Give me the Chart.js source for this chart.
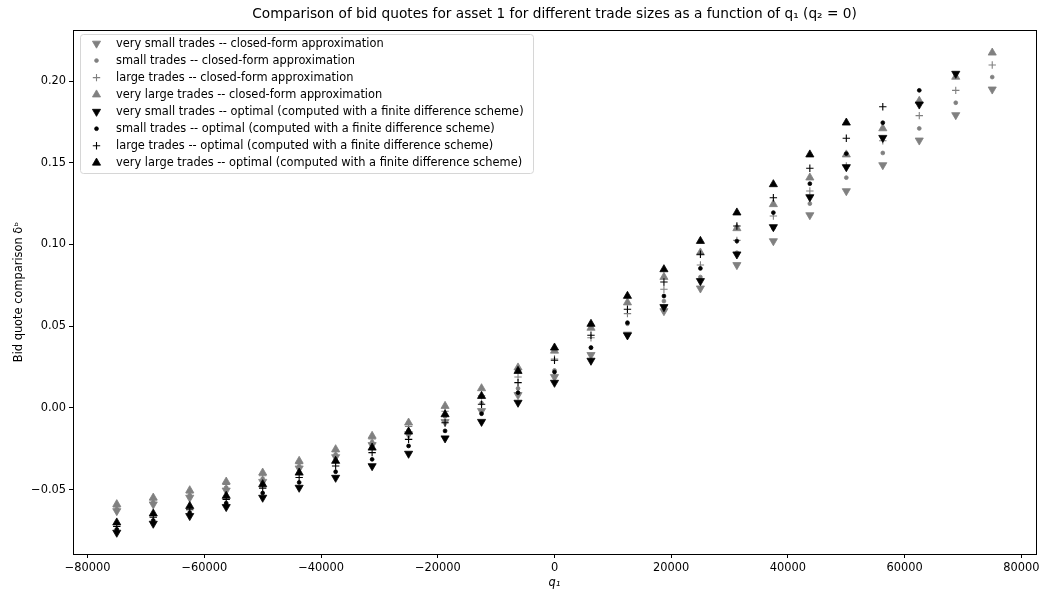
<!DOCTYPE html>
<html lang="en">
<head>
<meta charset="UTF-8">
<title>Bid quotes comparison</title>
<script src="https://cdn.jsdelivr.net/npm/chart.js"></script>
<style>
  html, body { margin: 0; padding: 0; background: #fff; }
  #wrap { width: 1043px; height: 595px; }
</style>
</head>
<body>
<div id="wrap"><canvas id="chart" width="1043" height="595"></canvas></div>
<script>
// q1 grid (x values)
const qValues = [-75000, -68750, -62500, -56250, -50000, -43750, -37500, -31250, -25000, -18750,
  -12500, -6250, 0, 6250, 12500, 18750, 25000, 31250, 37500, 43750, 50000, 56250, 62500, 68750, 75000];

// closed-form approximation
const cfVerySmall = [-0.0630, -0.0589, -0.0548, -0.0504, -0.0451, -0.0369, -0.0300, -0.0226, -0.0160, -0.0085,
  -0.0018, 0.0080, 0.0190, 0.0325, 0.0450, 0.0593, 0.0732, 0.0875, 0.1021, 0.1180, 0.1327, 0.1486, 0.1637, 0.1792, 0.1949];
const cfSmall = [-0.0618, -0.0576, -0.0533, -0.0486, -0.0432, -0.0355, -0.0284, -0.0208, -0.0137, -0.0052,
  0.0030, 0.0120, 0.0230, 0.0370, 0.0515, 0.0654, 0.0801, 0.0950, 0.1100, 0.1250, 0.1409, 0.1560, 0.1710, 0.1867, 0.2024];
const cfLarge = [-0.0605, -0.0563, -0.0519, -0.0468, -0.0414, -0.0340, -0.0268, -0.0189, -0.0113, -0.0020,
  0.0075, 0.0190, 0.0300, 0.0430, 0.0577, 0.0726, 0.0875, 0.1025, 0.1174, 0.1327, 0.1480, 0.1635, 0.1788, 0.1943, 0.2098];
const cfVeryLarge = [-0.0589, -0.0549, -0.0504, -0.0451, -0.0396, -0.0324, -0.0253, -0.0171, -0.0090, 0.0012,
  0.0120, 0.0247, 0.0350, 0.0490, 0.0645, 0.0801, 0.0950, 0.1099, 0.1246, 0.1409, 0.1550, 0.1710, 0.1878, 0.2025, 0.2173];

// optimal (finite difference scheme) - shorter near the upper inventory bound
const optVerySmall = [-0.0762, -0.0707, -0.0660, -0.0605, -0.0548, -0.0487, -0.0426, -0.0355, -0.0279, -0.0185,
  -0.0084, 0.0033, 0.0155, 0.0290, 0.0445, 0.0618, 0.0777, 0.0940, 0.1107, 0.1290, 0.1474, 0.1653, 0.1857, 0.2045];
const optSmall = [-0.0742, -0.0688, -0.0640, -0.0582, -0.0520, -0.0455, -0.0390, -0.0314, -0.0232, -0.0140,
  -0.0035, 0.0094, 0.0220, 0.0369, 0.0522, 0.0685, 0.0854, 0.1021, 0.1195, 0.1372, 0.1556, 0.1745, 0.1943];
const optLarge = [-0.0725, -0.0668, -0.0622, -0.0560, -0.0490, -0.0425, -0.0355, -0.0273, -0.0192, -0.0090,
  0.0023, 0.0155, 0.0292, 0.0445, 0.0604, 0.0771, 0.0940, 0.1113, 0.1286, 0.1466, 0.1650, 0.1843];
const optVeryLarge = [-0.0701, -0.0646, -0.0600, -0.0538, -0.0467, -0.0396, -0.0324, -0.0243, -0.0145, -0.0039,
  0.0073, 0.0226, 0.0369, 0.0514, 0.0685, 0.0848, 0.1021, 0.1195, 0.1368, 0.1550, 0.1745];

const seriesLabels = [
  'very small trades -- closed-form approximation',
  'small trades -- closed-form approximation',
  'large trades -- closed-form approximation',
  'very large trades -- closed-form approximation',
  'very small trades -- optimal (computed with a finite difference scheme)',
  'small trades -- optimal (computed with a finite difference scheme)',
  'large trades -- optimal (computed with a finite difference scheme)',
  'very large trades -- optimal (computed with a finite difference scheme)'
];

const xTicks = [-80000, -60000, -40000, -20000, 0, 20000, 40000, 60000, 80000];
const yTicks = [-0.05, 0.00, 0.05, 0.10, 0.15, 0.20];

const FONT = 'DejaVu Sans';
const GREY = '#808080';
const BLACK = '#000000';

function toPoints(ys) {
  return ys.map((y, i) => ({ x: qValues[i], y: y }));
}

// marker styles, matplotlib-ish: v, ., +, ^
const markerStyles = [
  { pointStyle: 'triangle', rotation: 180, radius: 4.7, border: 0.8 },
  { pointStyle: 'circle', rotation: 0, radius: 1.9, border: 0.8 },
  { pointStyle: 'cross', rotation: 0, radius: 3.7, border: 1.1 },
  { pointStyle: 'triangle', rotation: 0, radius: 4.7, border: 0.8 }
];

const seriesValues = [cfVerySmall, cfSmall, cfLarge, cfVeryLarge, optVerySmall, optSmall, optLarge, optVeryLarge];

const datasets = seriesValues.map((vals, i) => {
  const m = markerStyles[i % 4];
  const col = i < 4 ? GREY : BLACK;
  return {
    label: seriesLabels[i],
    data: toPoints(vals),
    pointStyle: m.pointStyle,
    rotation: m.rotation,
    pointRadius: m.radius,
    pointHoverRadius: m.radius,
    pointBorderWidth: m.border,
    backgroundColor: col,
    borderColor: col,
    showLine: false,
    order: 8 - i   // later series drawn on top, like matplotlib
  };
});

const minus = v => String(v).replace('-', '\u2212');

const framePlugin = {
  id: 'frame',
  afterDraw(chart) {
    const ctx = chart.ctx;
    const a = chart.chartArea;
    ctx.save();
    // spines
    ctx.strokeStyle = BLACK;
    ctx.lineWidth = 1;
    ctx.strokeRect(Math.round(a.left) + 0.5, Math.round(a.top) + 0.5,
      Math.round(a.right - a.left), Math.round(a.bottom - a.top));

    // title
    ctx.fillStyle = BLACK;
    ctx.font = '13.7px "' + FONT + '"';
    ctx.textAlign = 'center';
    ctx.textBaseline = 'middle';
    ctx.fillText('Comparison of bid quotes for asset 1 for different trade sizes as a function of q\u2081 (q\u2082 = 0)',
      (a.left + a.right) / 2, 14);

    // legend box
    const bx = 80.5, by = 34.5, bw = 453, bh = 139, r = 3;
    ctx.beginPath();
    ctx.moveTo(bx + r, by);
    ctx.lineTo(bx + bw - r, by);
    ctx.arcTo(bx + bw, by, bx + bw, by + r, r);
    ctx.lineTo(bx + bw, by + bh - r);
    ctx.arcTo(bx + bw, by + bh, bx + bw - r, by + bh, r);
    ctx.lineTo(bx + r, by + bh);
    ctx.arcTo(bx, by + bh, bx, by + bh - r, r);
    ctx.lineTo(bx, by + r);
    ctx.arcTo(bx, by, bx + r, by, r);
    ctx.closePath();
    ctx.fillStyle = 'rgba(255,255,255,0.8)';
    ctx.fill();
    ctx.strokeStyle = '#d6d6d6';
    ctx.lineWidth = 1;
    ctx.stroke();

    ctx.font = '11.4px "' + FONT + '"';
    ctx.textAlign = 'left';
    ctx.textBaseline = 'middle';
    chart.data.datasets.forEach((ds, i) => {
      const y = 43.5 + i * 17.04;
      ctx.fillStyle = ds.backgroundColor;
      ctx.strokeStyle = ds.borderColor;
      ctx.lineWidth = ds.pointBorderWidth;
      Chart.helpers.drawPoint(ctx, {
        pointStyle: ds.pointStyle,
        rotation: ds.rotation,
        radius: ds.pointRadius,
        borderWidth: ds.pointBorderWidth
      }, 96.5, y);
      ctx.fillStyle = BLACK;
      ctx.fillText(ds.label, 116, y + 0.5);
    });
    ctx.restore();
  }
};

new Chart(document.getElementById('chart'), {
  type: 'scatter',
  data: { datasets: datasets },
  options: {
    responsive: false,
    animation: false,
    layout: { padding: { top: 30, right: 7, left: 0, bottom: 0 } },
    plugins: {
      legend: { display: false },
      tooltip: { enabled: false },
      title: { display: false }
    },
    scales: {
      x: {
        type: 'linear',
        min: -82500,
        max: 82500,
        afterBuildTicks: s => { s.ticks = xTicks.map(v => ({ value: v })); },
        afterFit: s => { s.height = 41; },
        ticks: {
          callback: v => minus(v),
          color: BLACK,
          font: { family: FONT, size: 11.4 },
          padding: 3,
          maxRotation: 0,
          autoSkip: false
        },
        grid: { drawOnChartArea: false, drawTicks: true, tickLength: 4, color: BLACK, lineWidth: 1 },
        border: { display: false },
        title: {
          display: true,
          text: 'q\u2081',
          color: BLACK,
          font: { family: FONT, size: 11.4, style: 'italic' },
          padding: { top: 0, bottom: 5 }
        }
      },
      y: {
        type: 'linear',
        min: -0.0893,
        max: 0.2312,
        afterBuildTicks: s => { s.ticks = yTicks.map(v => ({ value: v })); },
        afterFit: s => { s.width = 73; },
        ticks: {
          callback: v => minus(v.toFixed(2)),
          color: BLACK,
          font: { family: FONT, size: 11.4 },
          padding: 3,
          autoSkip: false
        },
        grid: { drawOnChartArea: false, drawTicks: true, tickLength: 4, color: BLACK, lineWidth: 1 },
        border: { display: false },
        title: {
          display: true,
          text: 'Bid quote comparison \u03b4\u1d47',
          color: BLACK,
          font: { family: FONT, size: 11.4 },
          padding: { top: 12, bottom: 0 }
        }
      }
    }
  },
  plugins: [framePlugin]
});
</script>
</body>
</html>
